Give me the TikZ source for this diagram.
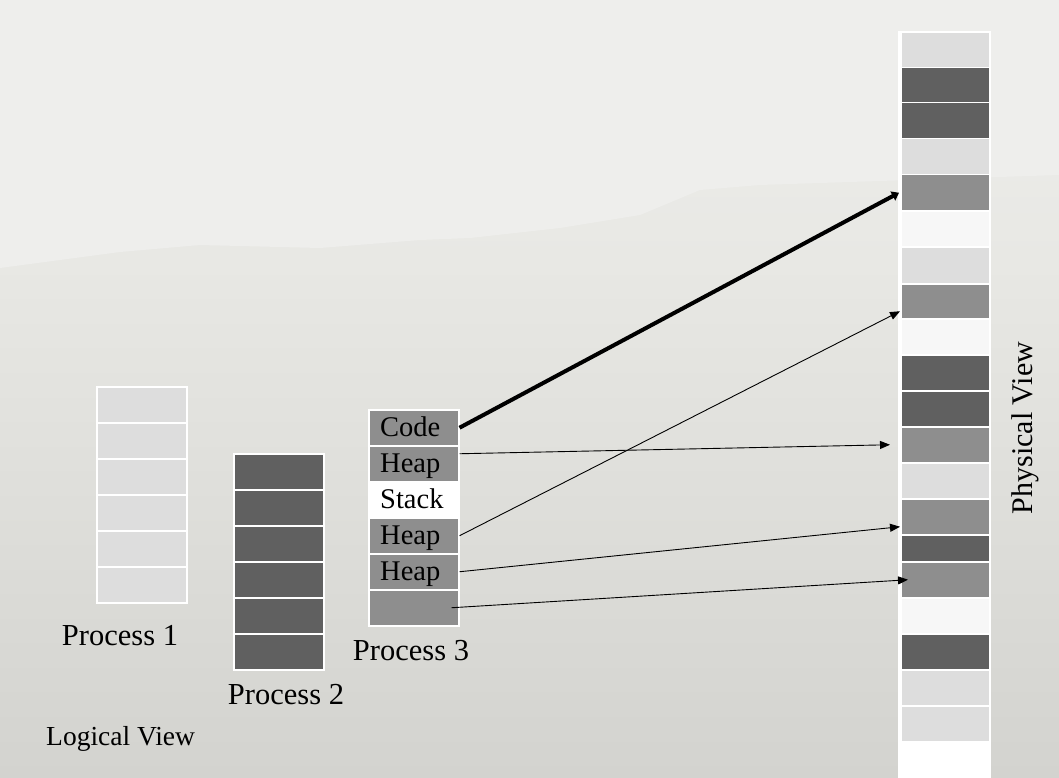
\documentclass[tikz,border=0pt]{standalone}
\usepackage{fontspec}
\setmainfont{Liberation Serif}
\usetikzlibrary{arrows.meta}
\definecolor{cLight}{HTML}{DDDDDD}
\definecolor{cDark}{HTML}{606060}
\definecolor{cMid}{HTML}{8E8E8E}
\definecolor{cVLight}{HTML}{F7F7F7}
\definecolor{bgTop}{HTML}{EEEEEC}
\definecolor{bgMid}{HTML}{E8E8E4}
\definecolor{bgBot}{HTML}{D3D3CF}
\begin{document}
\begin{tikzpicture}[x=1pt,y=-1pt,
  cell/.style={draw=white, line width=1.5pt, inner sep=0pt, minimum width=90pt, minimum height=36pt, anchor=north west},
  ctext/.style={font=\fontsize{28.5}{30}\selectfont, inner sep=0pt, anchor=base west},
  lbl/.style={font=\fontsize{30.5}{33}\selectfont, inner sep=0pt, anchor=base},
  thin arrow/.style={draw=black, line width=0.9pt, -{Triangle[length=10pt,width=8pt]}},
  thick arrow/.style={draw=black, line width=4pt, -{Triangle[length=7pt,width=10pt]}}]
\useasboundingbox (0,0) rectangle (1059,778);
% background
\shade[top color=bgTop, bottom color=bgMid] (0,0) rectangle (1059,262);
\shade[top color=bgMid, bottom color=bgBot] (0,262) rectangle (1059,778);
\fill[bgTop] (0,0) -- (1059,0) -- (1059,175) -- (760,185) -- (700,190) -- (640,215) -- (560,228) -- (470,238) -- (420,240) -- (320,248) -- (200,245) -- (120,252) -- (0,268) -- cycle;
% Process 1
\foreach \k in {0,...,5}
  \node[cell, fill=cLight] (a\k) at (96,386+36*\k) {};
% Process 2
\foreach \k in {0,...,5}
  \node[cell, fill=cDark] (b\k) at (233,453+36*\k) {};
% Process 3
\node[cell, fill=cMid] (c1) at (368,409) {};
\node[cell, fill=cMid] (c2) at (368,445) {};
\node[cell, fill=white] (c3) at (368,481) {};
\node[cell, fill=cMid] (c4) at (368,517) {};
\node[cell, fill=cMid] (c5) at (368,553) {};
\node[cell, fill=cMid] (c6) at (368,589) {};
\node[ctext] (t1) at (380,436) {Code};
\node[ctext] (t2) at (380,472) {Heap};
\node[ctext] (t3) at (380,508) {Stack};
\node[ctext] (t4) at (380,544) {Heap};
\node[ctext] (t5) at (380,580) {Heap};
% Physical memory
\fill[white] (898,31) rectangle (991,778);
\foreach \i/\t/\h/\c in {1/32/35/cLight, 2/67/35/cDark, 3/102/36/cDark, 4/138/36/cLight, 5/174/36/cMid, 6/210/36/cVLight, 7/246/37/cLight, 8/283/35/cMid, 9/318/36/cVLight, 10/354/36/cDark, 11/390/36/cDark, 12/426/36/cMid, 13/462/36/cLight, 14/498/36/cMid, 15/534/27/cDark, 16/561/36/cMid, 17/597/36/cVLight, 18/633/36/cDark, 19/669/36/cLight, 20/705/36/cLight, 21/741/37/white}
  \node[cell, minimum width=89pt, minimum height=\h pt, fill=\c] (p\i) at (900,\t) {};
% labels
\node[lbl] (l1) at (120,645) {Process 1};
\node[lbl] (l2) at (286,704) {Process 2};
\node[lbl] (l3) at (411,660) {Process 3};
\node[font=\fontsize{27.5}{29}\selectfont, inner sep=0pt, anchor=base west] (lv) at (46,745) {Logical View};
\node[font=\fontsize{30}{32}\selectfont, inner sep=0pt, anchor=base, rotate=90] (pv) at (1032,428) {Physical View};
% arrows
\draw[thick arrow] (c1.east) -- ([xshift=-1pt]p5.west);
\draw[thin arrow] ([yshift=10pt]c2.east) -- ([xshift=-10pt]p12.west);
\draw[thin arrow] (c4.east) -- ([yshift=-10pt]p8.west);
\draw[thin arrow] (c5.east) -- ([yshift=-10pt]p14.west);
\draw[thin arrow] ([xshift=-8pt]c6.east) -- ([xshift=8pt]p16.west);
\end{tikzpicture}
\end{document}
